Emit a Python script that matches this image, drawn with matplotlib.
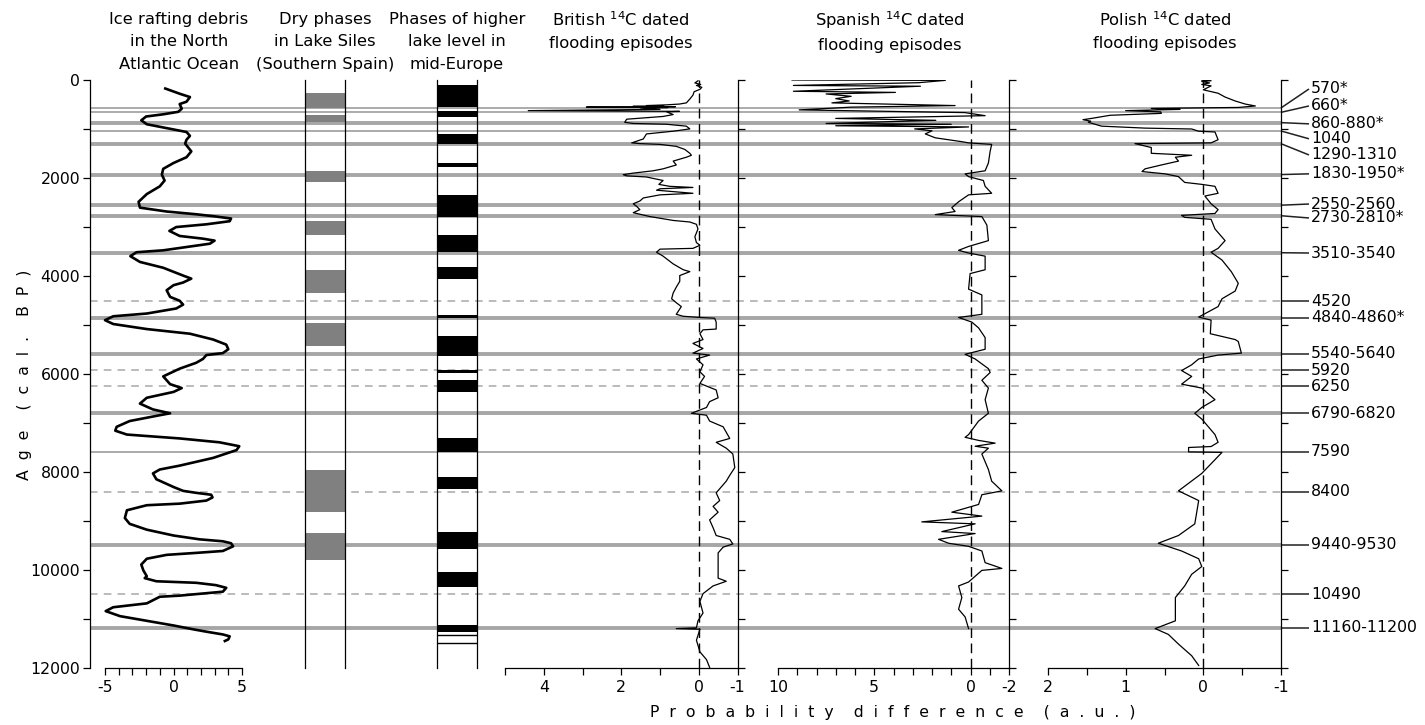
import matplotlib
matplotlib.use("Agg")
import matplotlib.pyplot as plt
from matplotlib.ticker import MultipleLocator, FixedLocator, NullFormatter, NullLocator

plt.rcParams['font.family'] = ['DejaVu Sans']
plt.rcParams['axes.unicode_minus'] = False

# --- data ---
ird_age = [174, 285, 348, 443, 491, 586, 649, 700, 745, 823, 903, 982, 1061, 1140, 1219, 1298, 1457, 1576,
           1694, 1813, 1932, 2051, 2170, 2328, 2486, 2605, 2684, 2740, 2779, 2827, 2882, 2945, 3001, 3080,
           3183, 3238, 3278, 3341, 3476, 3515, 3595, 3713, 3832, 3991, 4054, 4133, 4188, 4291, 4426, 4505,
           4584, 4663, 4766, 4822, 4901, 4980, 5083, 5178, 5297, 5400, 5495, 5574, 5613, 5693, 5772, 5891,
           6049, 6207, 6287, 6366, 6485, 6604, 6723, 6802, 6841, 6960, 7078, 7157, 7236, 7315, 7394, 7474,
           7553, 7712, 7870, 7949, 8029, 8148, 8306, 8385, 8425, 8464, 8519, 8583, 8646, 8678, 8781, 8939,
           9058, 9177, 9296, 9374, 9414, 9454, 9517, 9612, 9651, 9691, 9770, 9889, 10008, 10127, 10166,
           10230, 10261, 10309, 10364, 10443, 10523, 10546, 10681, 10721, 10760, 10839, 10942, 11037, 11132,
           11211, 11259, 11315, 11354, 11417, 11449]
ird_val = [-0.6, 0.5, 1.2, 0.95, 0.45, 0.6, 0.35, -0.75, -2.0, -2.35, -1.95, -0.5, 0.95, 1.2, 0.95, 0.85, 1.3,
           0.95, 0.0, -0.75, -0.85, -0.65, -1.0, -1.95, -2.55, -2.45, -0.5, 1.65, 2.9, 4.2, 4.1, 2.4, 0.2,
           -0.3, 0.45, 2.15, 3.0, 2.65, -0.75, -2.7, -3.15, -2.45, -0.75, 0.7, 1.3, 0.7, 0.0, -0.5, -0.25,
           0.45, 0.7, 0.2, -1.95, -4.4, -5.0, -4.4, -1.95, 1.2, 2.9, 3.85, 4.0, 3.6, 2.4, 2.15, 1.65, 0.45,
           -0.75, -0.25, 0.6, 0.0, -1.95, -2.45, -1.5, -0.25, -1.0, -3.2, -4.15, -4.25, -3.4, 0.45, 3.35, 4.8,
           4.6, 2.9, 0.45, -1.0, -1.5, -1.25, 0.0, 0.7, 1.65, 2.75, 2.85, 2.4, 0.45, -1.95, -3.4, -3.55, -3.2,
           -1.95, 0.0, 1.9, 3.6, 4.2, 4.35, 3.6, 1.65, -0.5, -1.95, -2.35, -2.2, -1.95, -2.1, -1.25, 1.65, 3.1,
           3.85, 3.6, 0.45, -1.0, -1.95, -3.2, -4.4, -4.95, -3.9, -1.95, 0.0, 1.45, 2.4, 3.6, 4.1, 4.0, 3.75]

siles_start = [270, 705, 1850, 2880, 3870, 4950, 7960, 9240]
siles_end = [570, 850, 2090, 3160, 4350, 5430, 8820, 9790]

europe_start = [95, 625, 1100, 1695, 2350, 3160, 3810, 4805, 5220, 5915, 6130, 7300, 8110, 9230, 10050, 11115]
europe_end = [550, 745, 1300, 1775, 2800, 3515, 4070, 4860, 5640, 5970, 6365, 7595, 8345, 9570, 10350, 11275]
europe_lines = [11330, 11500]

british_age = [16, 60, 90, 111, 150, 190, 240, 309, 388, 467, 491, 507, 522, 530, 538, 546, 554, 562, 570, 600,
               625, 640, 649, 705, 744, 800, 863, 887, 903, 942, 998, 1045, 1101, 1203, 1283, 1298, 1314, 1354,
               1417, 1496, 1536, 1576, 1655, 1734, 1813, 1853, 1900, 1932, 1956, 1979, 2051, 2130, 2170, 2193,
               2220, 2249, 2312, 2344, 2407, 2470, 2526, 2581, 2645, 2708, 2787, 2866, 2898, 2945, 3040, 3199,
               3318, 3373, 3436, 3452, 3515, 3595, 3753, 3872, 3911, 3991, 4109, 4228, 4347, 4465, 4545, 4624,
               4782, 4822, 4846, 4862, 4941, 5083, 5099, 5178, 5297, 5376, 5479, 5574, 5614, 5693, 5812, 5954,
               6049, 6192, 6326, 6485, 6564, 6683, 6802, 6841, 6960, 7078, 7315, 7394, 7514, 7633, 7910, 8068,
               8187, 8306, 8425, 8583, 8702, 8820, 8978, 9137, 9296, 9374, 9469, 9533, 9651, 10166, 10230,
               10325, 10483, 10641, 10879, 11037, 11180, 11196, 11210, 11433, 11670, 11829, 11987]
british_val = [0.02, 0.1, -0.05, 0.06, -0.08, -0.03, 0.12, 0.15, 0.23, 0.32, 0.5, 0.83, 1.35, 0.9, 1.7, 0.6,
               2.9, 0.8, 1.5, 1.0, 4.4, 0.5, 0.83, 0.66, 0.92, 1.86, 1.91, 1.69, 0.83, 0.32, 0.23, 0.66, 1.35,
               1.43, 1.73, 1.52, 1.0, 0.58, 0.36, 0.23, 0.19, 0.32, 0.66, 0.58, 0.92, 1.18, 1.69, 1.95, 1.86,
               1.35, 0.92, 1.03, 0.75, 0.15, 1.0, 1.09, 0.15, 1.0, 1.43, 1.52, 1.69, 1.6, 1.52, 1.69, 1.26, 0.66,
               0.23, 0.06, 0.02, 0.1, 0.06, -0.03, 0.15, 1.0, 1.09, 0.92, 0.66, 0.4, 0.23, 0.49, 0.49, 0.58,
               0.66, 0.7, 0.58, 0.45, 0.58, 0.4, -0.03, -0.41, -0.45, -0.45, -0.11, -0.03, -0.11, 0.15, -0.11,
               0.15, -0.28, 0.06, -0.11, -0.03, -0.15, -0.03, -0.45, -0.5, -0.28, -0.2, 0.19, -0.2, -0.28,
               -0.63, -0.8, -0.45, -0.71, -0.88, -0.93, -0.8, -0.71, -0.58, -0.45, -0.54, -0.37, -0.5, -0.28,
               -0.37, -0.45, -0.8, -0.88, -0.63, -0.5, -0.5, -0.71, -0.37, -0.11, -0.03, -0.11, 0.02, 0.06, 0.58,
               -0.03, 0.06, -0.03, -0.2, -0.28]

spanish_age = [0, 8, 55, 111, 127, 230, 253, 285, 333, 380, 428, 467, 522, 554, 610, 665, 728, 784, 823, 887,
               903, 934, 958, 998, 1037, 1100, 1180, 1259, 1283, 1314, 1457, 1694, 1853, 1916, 1972, 2051, 2170,
               2312, 2344, 2486, 2605, 2684, 2747, 2787, 2961, 3278, 3397, 3476, 3531, 3595, 3872, 3951, 4268,
               4386, 4782, 4846, 4941, 5059, 5257, 5495, 5598, 5693, 5891, 5970, 6128, 6287, 6524, 6802, 6960,
               7237, 7292, 7355, 7411, 7474, 7514, 7633, 7949, 8187, 8385, 8464, 8662, 8820, 8900, 9018, 9058,
               9216, 9256, 9374, 9454, 9517, 9612, 9850, 9968, 10008, 10245, 10325, 10562, 10800, 10958, 11196]
spanish_val = [9.27, 1.31, 2.7, 9.2, 2.6, 9.2, 3.9, 7.5, 6.2, 7.0, 6.3, 7.2, 0.8, 6.2, 8.9, 0.3, -0.76, 7.0,
               1.8, 7.5, 1.0, 7.0, 0.1, 2.9, 2.0, 2.35, 1.83, 0.45, 0.1, -1.1, -1.02, -0.93, -0.76, 0.28, 0.1,
               -0.67, -0.76, -1.1, 0.1, 0.62, 0.97, 0.8, 1.83, -0.59, -0.85, -0.93, 0.1, 0.62, 0.1, -0.76, -0.76,
               0.02, 0.1, -0.59, -0.59, 0.62, -0.07, -0.42, -0.76, -0.76, 0.28, -0.24, -0.93, -1.02, -0.59, -0.93,
               -0.76, -0.93, -0.42, 0.1, 0.28, -0.42, -1.28, -0.24, -0.93, -0.59, -0.93, -1.1, -1.63, -0.59,
               -0.42, 0.97, -0.59, 2.53, -0.24, 1.49, -0.24, 1.66, 1.14, 0.1, -0.59, -0.76, -1.63, -0.59, 0.1,
               0.62, 0.45, 0.62, 0.28, 0.1]

polish_age = [0, 15, 30, 60, 90, 120, 200, 270, 348, 428, 491, 530, 560, 580, 600, 625, 650, 681, 720, 784,
              810, 840, 863, 942, 982, 1000, 1045, 1061, 1219, 1283, 1298, 1378, 1496, 1536, 1576, 1655, 1734,
              1813, 1868, 1916, 1972, 2090, 2130, 2170, 2312, 2368, 2526, 2645, 2724, 2763, 2803, 2843, 3040,
              3278, 3436, 3515, 3674, 3911, 4149, 4307, 4465, 4624, 4838, 4901, 5178, 5297, 5337, 5574, 5614,
              5693, 5812, 5930, 6049, 6207, 6287, 6524, 6683, 6802, 6920, 7236, 7394, 7480, 7500, 7590, 7600,
              8029, 8385, 8583, 9058, 9296, 9454, 9612, 9770, 9929, 10087, 10325, 10562, 11037, 11196, 11315,
              11512, 11750, 11948]
polish_val = [0.02, -0.1, 0.02, -0.08, 0.02, -0.1, 0.0, -0.19, -0.28, -0.41, -0.54, -0.67, -0.45, 0.67, 0.3,
              1.0, 0.55, 0.54, 1.2, 1.44, 1.55, 1.45, 1.48, 1.31, 0.75, 0.15, 0.06, -0.15, -0.19, -0.1, 0.88,
              0.67, 0.67, 0.15, 0.36, 0.32, 0.54, 0.75, 0.79, 0.49, 0.32, 0.24, 0.02, -0.15, -0.19, -0.02, -0.1,
              -0.19, -0.15, 0.28, 0.24, -0.1, -0.15, -0.28, -0.19, -0.1, -0.24, -0.36, -0.45, -0.41, -0.24,
              -0.19, 0.06, -0.1, -0.09, -0.41, -0.45, -0.49, -0.19, 0.06, 0.15, 0.28, 0.15, 0.28, 0.02, -0.15,
              0.02, 0.11, 0.02, -0.15, -0.19, -0.1, 0.19, 0.19, -0.24, 0.02, 0.32, 0.06, 0.11, 0.32, 0.58, 0.28,
              0.06, 0.02, 0.15, 0.24, 0.36, 0.36, 0.62, 0.45, 0.32, 0.15, 0.06]

event_age = [570, 660, 870, 1040, 1300, 1930, 2555, 2770, 3525, 4520, 4850, 5590, 5920, 6250, 6805, 7590,
             8400, 9485, 10490, 11180]
event_kind = ['thin', 'thin', 'thick', 'thin', 'thick', 'thick', 'thick', 'thick', 'thick', 'dash', 'thick',
              'thick', 'dash', 'dash', 'thick', 'thin', 'dash', 'thick', 'dash', 'thick']
event_label = ['570*', '660*', '860-880*', '1040', '1290-1310', '1830-1950*', '2550-2560', '2730-2810*',
               '3510-3540', '4520', '4840-4860*', '5540-5640', '5920', '6250', '6790-6820', '7590', '8400',
               '9440-9530', '10490', '11160-11200']
label_age = [183, 530, 895, 1200, 1530, 1915, 2531, 2816, 3531, 4520, 4850, 5590, 5920, 6250, 6805, 7590,
             8400, 9485, 10490, 11180]

# --- layout (pixels) ---
W, H = 1425, 725
Y0, Y1 = 80, 668
FS = 11.3


def box(x0, x1):
    return [x0 / W, 1 - Y1 / H, (x1 - x0) / W, (Y1 - Y0) / H]


fig = plt.figure(figsize=(W / 100, H / 100), dpi=100)

# background: event lines and labels
bg = fig.add_axes([0, 1 - Y1 / H, 1, (Y1 - Y0) / H])
bg.set_xlim(0, W)
bg.set_ylim(12000, 0)
bg.axis('off')
styles = {'thin': dict(color='#ababab', lw=1.4, ls='-'),
          'thick': dict(color='#a6a6a6', lw=2.8, ls='-'),
          'dash': dict(color='#a8a8a8', lw=1.1, ls=(0, (5, 4)))}
for age, kind in zip(event_age, event_kind):
    bg.hlines(age, 90, 1281, **styles[kind])
for age, lab_age, lab in zip(event_age, label_age, event_label):
    bg.plot([1281, 1309], [age, lab_age], color='#222222', lw=1.1, solid_capstyle='butt')
    bg.text(1311, lab_age, lab, fontsize=FS, ha='left', va='center')


def style_axis(ax):
    ax.patch.set_visible(False)
    ax.set_ylim(12000, 0)
    for s in ax.spines.values():
        s.set_linewidth(0.9)
    ax.tick_params(which='both', width=0.9, length=5, direction='out', labelsize=FS)


# IRD panel with age axis
ax = fig.add_axes(box(90, 270))
style_axis(ax)
ax.set_xlim(-5 - 15 * 10 / 137, 5 + 28 * 10 / 137)
ax.spines['top'].set_visible(False)
ax.spines['right'].set_visible(False)
ax.spines['bottom'].set_bounds(-5, 5)
ax.xaxis.set_major_locator(FixedLocator([-5, 0, 5]))
ax.xaxis.set_minor_locator(FixedLocator(list(range(-5, 6))))
ax.yaxis.set_major_locator(MultipleLocator(2000))
ax.yaxis.set_minor_locator(MultipleLocator(1000))
ax.tick_params(axis='y', pad=2)
ax.plot(ird_val, ird_age, color='black', lw=1.9)

# Lake Siles dry phases
ax = fig.add_axes(box(305, 345))
style_axis(ax)
ax.set_xlim(0, 1)
ax.spines['top'].set_visible(False)
ax.spines['bottom'].set_visible(False)
ax.xaxis.set_major_locator(NullLocator())
ax.yaxis.set_major_locator(NullLocator())
ax.barh([(s + e) / 2 for s, e in zip(siles_start, siles_end)],
        1, height=[e - s for s, e in zip(siles_start, siles_end)], left=0, color='#808080')

# mid-Europe lake levels
ax = fig.add_axes(box(437, 477))
style_axis(ax)
ax.set_xlim(0, 1)
ax.spines['top'].set_visible(False)
ax.spines['bottom'].set_visible(False)
ax.xaxis.set_major_locator(NullLocator())
ax.yaxis.set_major_locator(NullLocator())
ax.barh([(s + e) / 2 for s, e in zip(europe_start, europe_end)],
        1, height=[e - s for s, e in zip(europe_start, europe_end)], left=0, color='black')
ax.hlines(europe_lines, 0, 1, color='black', lw=1.0)


def flood_panel(x0, x1, lim, major, minor, vals, ages):
    ax = fig.add_axes(box(x0, x1))
    style_axis(ax)
    ax.set_xlim(*lim)
    ax.spines['top'].set_visible(False)
    ax.spines['left'].set_visible(False)
    ax.yaxis.tick_right()
    ax.yaxis.set_major_locator(MultipleLocator(1000))
    ax.yaxis.set_major_formatter(NullFormatter())
    ax.xaxis.set_major_locator(FixedLocator(major))
    ax.xaxis.set_minor_locator(MultipleLocator(minor))
    ax.axvline(0, color='black', lw=1.0, ls=(0, (7, 4)))
    ax.plot(vals, ages, color='black', lw=0.9)
    return ax


flood_panel(505, 737.5, (5, -1), [4, 2, 0, -1], 1, british_val, british_age)
flood_panel(778, 1009, (10, -2), [10, 5, 0, -2], 1, spanish_val, spanish_age)
flood_panel(1048, 1281, (2, -1), [2, 1, 0, -1], 0.5, polish_val, polish_age)

# headers
hdr = dict(ha='center', va='center', fontsize=11.8, linespacing=1.6)
fig.text(179 / W, 1 - 42 / H, 'Ice rafting debris\nin the North\nAtlantic Ocean', **hdr)
fig.text(325 / W, 1 - 42 / H, 'Dry phases\nin Lake Siles\n(Southern Spain)', **hdr)
fig.text(457 / W, 1 - 42 / H, 'Phases of higher\nlake level in\nmid-Europe', **hdr)
fig.text(621 / W, 1 - 31 / H, 'British $^{14}$C dated\nflooding episodes', **hdr)
fig.text(890 / W, 1 - 31 / H, 'Spanish $^{14}$C dated\nflooding episodes', **hdr)
fig.text(1165 / W, 1 - 31 / H, 'Polish $^{14}$C dated\nflooding episodes', **hdr)

fig.text(25 / W, 1 - 375 / H, 'A  g  e    (  c  a  l  .    B  P  )', rotation=90,
         ha='center', va='center', fontsize=FS)
fig.text(893 / W, 1 - 712 / H, 'P  r  o  b  a  b  i  l  i  t  y    d  i  f  f  e  r  e  n  c  e    (  a  .  u  .  )',
         ha='center', va='center', fontsize=FS)

fig.savefig('out.png', dpi=100)
